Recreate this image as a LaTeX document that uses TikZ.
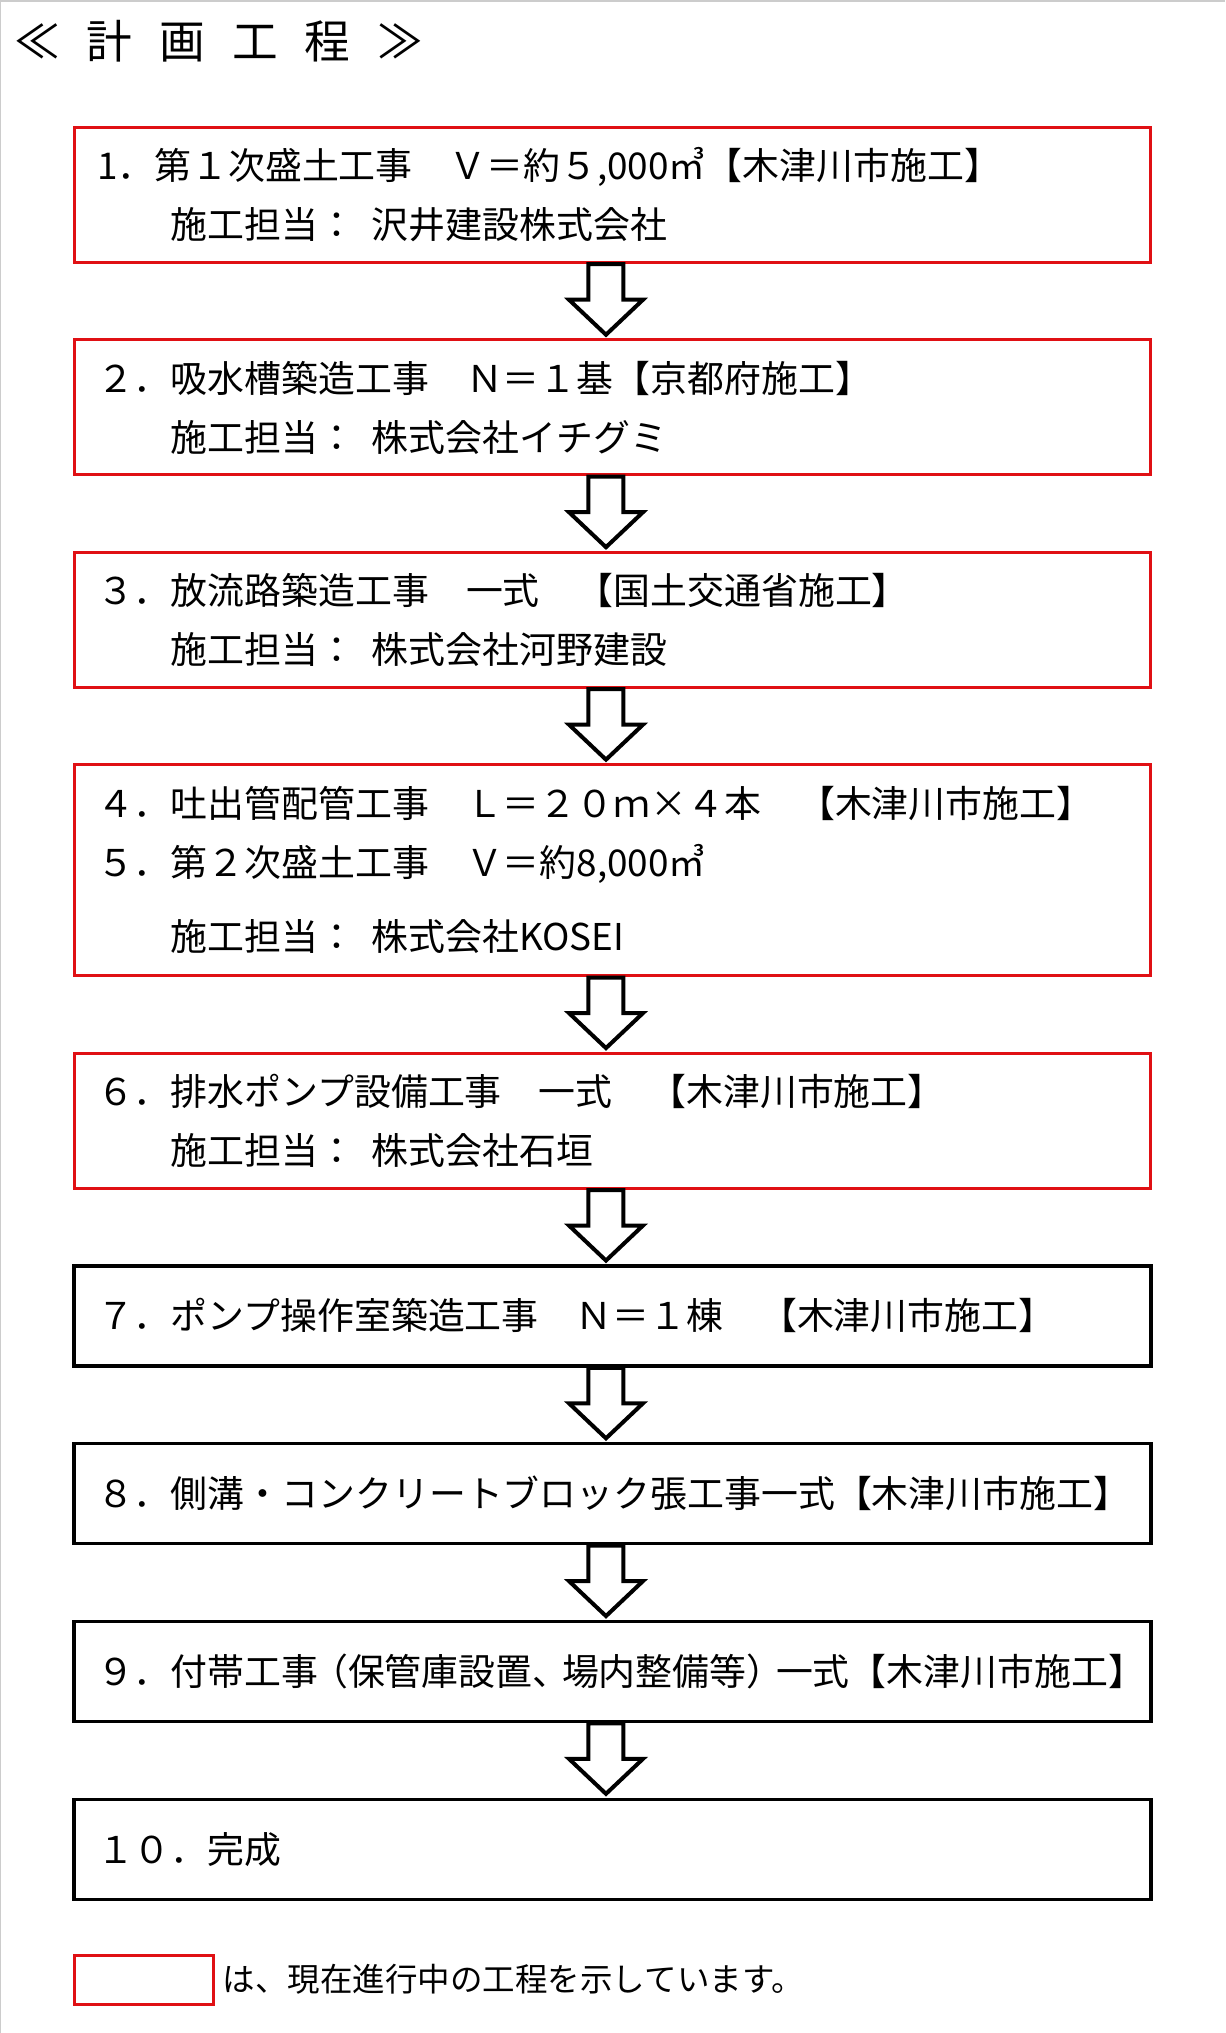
\documentclass[tikz,border=0pt]{standalone}
\usepackage{fontspec}
\setmainfont{Noto Sans CJK JP}
\usetikzlibrary{positioning}
\definecolor{workred}{RGB}{224,16,20}
\tikzset{stage/.style={draw, line width=0.066cm, text width=20.62cm, inner xsep=0.46cm,
  inner ysep=0cm, align=left, font=\fontsize{21}{33.6}\selectfont, minimum height=2cm},
ongoing/.style={stage, draw=workred, line width=0.06cm, minimum height=2.7cm},
arrowline/.style={draw=black, fill=white, line width=0.08cm},
flowarrow/.pic={\path[arrowline] (-24,-37) -- (-24,-1.5) -- (-43.5,-1.5) -- (-6.5,33.5)
  -- (30.5,-1.5) -- (11,-1.5) -- (11,-37) -- cycle;}
}

\begin{document}
\begin{tikzpicture}[x=0.02cm, y=-0.02cm, node distance=1.49cm]
\useasboundingbox (0,0) rectangle (1225,2033);
\draw[black!20, line width=0.03cm] (0.75,2033) -- (0.75,0.75) -- (1225,0.75);

\node[anchor=west, inner sep=0, font=\fontsize{26}{26}\selectfont] (title) at (14,41)
  {≪\hspace{0.59em}計\hspace{0.59em}画\hspace{0.59em}工\hspace{0.59em}程\hspace{0.59em}≫};

% stages
\node[ongoing, anchor=north west] (s1) at (72.6,126)
  {1．第１次盛土工事　Ｖ＝約５,000㎥【木津川市施工】\\
   \hspace*{2em}施工担当：\hspace{0.45em}沢井建設株式会社};
\node[ongoing] (s2) [below=of s1]
  {２．吸水槽築造工事　Ｎ＝１基【京都府施工】\\
   \hspace*{2em}施工担当：\hspace{0.45em}株式会社イチグミ};
\node[ongoing] (s3) [below=of s2]
  {３．放流路築造工事　一式　【国土交通省施工】\\
   \hspace*{2em}施工担当：\hspace{0.45em}株式会社河野建設};
\node[ongoing, minimum height=4.22cm] (s4) [below=of s3]
  {４．吐出管配管工事　Ｌ＝２０ｍ×４本　【木津川市施工】\\
   ５．第２次盛土工事　Ｖ＝約8,000㎥\\[0.3cm]
   \hspace*{2em}施工担当：\hspace{0.45em}株式会社KOSEI};
\node[ongoing] (s6) [below=of s4]
  {６．排水ポンプ設備工事　一式　【木津川市施工】\\
   \hspace*{2em}施工担当：\hspace{0.45em}株式会社石垣};
\node[stage] (s7) [below=of s6] {７．ポンプ操作室築造工事　Ｎ＝１棟　【木津川市施工】};
\node[stage] (s8) [below=of s7] {８．側溝・コンクリートブロック張工事一式【木津川市施工】};
\node[stage] (s9) [below=of s8]
  {\mbox{９．付帯工事\kern-0.2em（保管庫設置、\kern-0.2em 場内整備等）\kern-0.2em 一式【木津川市施工】}};
\node[stage] (s10) [below=of s9] {１０．完成};

% arrows between stages
\path (s1.south) -- (s2.north) coordinate[midway] (a1);
\path (s2.south) -- (s3.north) coordinate[midway] (a2);
\path (s3.south) -- (s4.north) coordinate[midway] (a3);
\path (s4.south) -- (s6.north) coordinate[midway] (a4);
\path (s6.south) -- (s7.north) coordinate[midway] (a5);
\path (s7.south) -- (s8.north) coordinate[midway] (a6);
\path (s8.south) -- (s9.north) coordinate[midway] (a7);
\path (s9.south) -- (s10.north) coordinate[midway] (a8);
\pic at (a1) {flowarrow};
\pic at (a2) {flowarrow};
\pic at (a3) {flowarrow};
\pic at (a4) {flowarrow};
\pic at (a5) {flowarrow};
\pic at (a6) {flowarrow};
\pic at (a7) {flowarrow};
\pic at (a8) {flowarrow};

% legend
\node[draw=workred, line width=0.06cm, minimum width=2.78cm, minimum height=0.98cm,
  anchor=north west] (key) at (72.6,1953.5) {};
\node[right=0.16cm of key, inner sep=0, font=\fontsize{18.5}{18.5}\selectfont] (keytext)
  {は、現在進行中の工程を示しています。};
\end{tikzpicture}
\end{document}
